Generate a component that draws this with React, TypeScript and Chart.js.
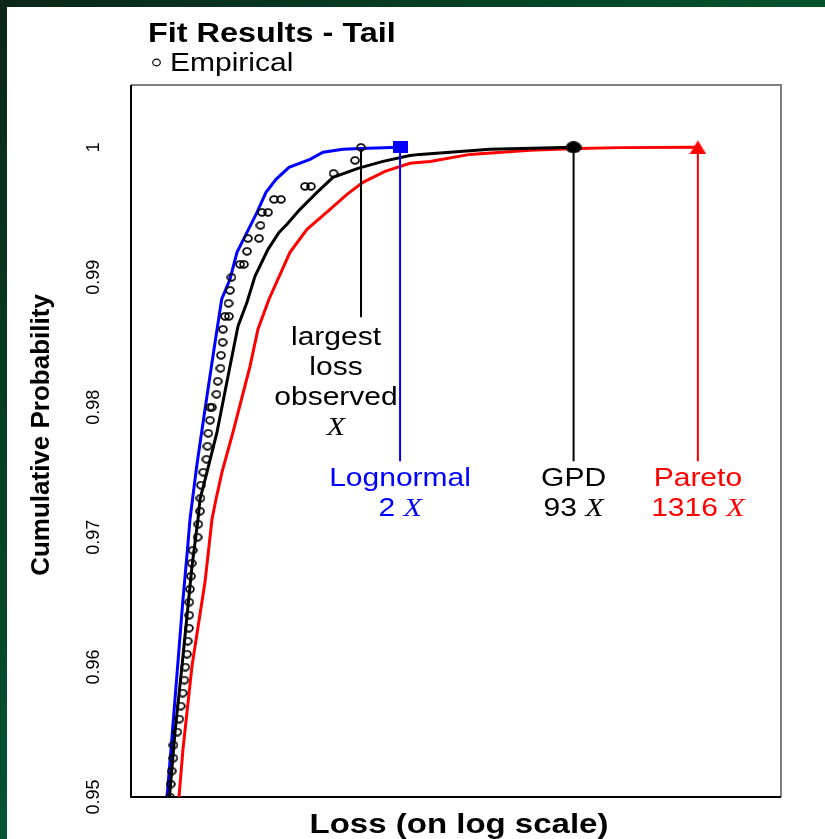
import React, { useEffect, useRef } from "react";
import { Chart, registerables } from "chart.js";

Chart.register(...registerables);

const SX = 1.2; // horizontal text stretch seen in the reference
const SANS = "'Liberation Sans', Arial, sans-serif";
const SERIF = "'Liberation Serif', 'Times New Roman', serif";

const TITLE = "Fit Results - Tail";
const LEGEND_LABEL = "Empirical";
const Y_TITLE = "Cumulative Probability";
const X_TITLE = "Loss (on log scale)";

// y axis
const yTicks = [0.95, 0.96, 0.97, 0.98, 0.99, 1];
const yTickLabels = ["0.95", "0.96", "0.97", "0.98", "0.99", "1"];
const yMin = 0.95;
const yMax = 1.0048;

// x axis: loss in multiples of the largest observed loss X (log scale, no ticks)
const xMin = 0.00742;
const xMax = 7743;

// Empirical points (loss / X, cumulative probability)
const empiricalLoss = [
  1.0, 0.88, 0.5565, 0.303, 0.3444, 0.1565, 0.1816, 0.1211, 0.1377, 0.1173,
  0.08989, 0.1137, 0.08799, 0.0758, 0.08254, 0.06322, 0.06124, 0.05932, 0.05505, 0.05995,
  0.05275, 0.0524, 0.05054, 0.05001, 0.04711, 0.04592, 0.03999, 0.04173,
  0.03999, 0.03855, 0.0379, 0.0371, 0.03466, 0.033, 0.03265, 0.03231, 0.03115, 0.03063,
  0.02765, 0.02707, 0.02667, 0.0261, 0.02571, 0.02566, 0.02555, 0.02486, 0.02448, 0.02361,
  0.02311, 0.02234, 0.02141, 0.02078, 0.01991, 0.01836, 0.01829, 0.01767, 0.0173, 0.01704,
];
const empiricalProb = [
  1.0, 0.999, 0.998, 0.997, 0.997, 0.996, 0.996, 0.995, 0.995, 0.994,
  0.993, 0.993, 0.992, 0.991, 0.991, 0.99, 0.989, 0.988, 0.987, 0.987,
  0.986, 0.985, 0.984, 0.983, 0.982, 0.981, 0.98, 0.98,
  0.979, 0.978, 0.977, 0.976, 0.975, 0.974, 0.973, 0.972, 0.971, 0.97,
  0.969, 0.968, 0.967, 0.966, 0.965, 0.964, 0.963, 0.962, 0.961, 0.96,
  0.959, 0.958, 0.957, 0.956, 0.955, 0.954, 0.953, 0.952, 0.951, 0.95,
];

// Fitted CDFs
const lognormalLoss = [
  0.01599, 0.01741, 0.01896, 0.02064, 0.02248, 0.02475, 0.0261, 0.03011, 0.03594, 0.04354,
  0.05131, 0.06124, 0.07109, 0.08799, 0.1089, 0.1319, 0.1633, 0.2154, 0.3372, 0.4448,
  0.6813, 0.9789, 2.3,
];
const lognormalProb = [
  0.95, 0.95369, 0.95754, 0.96138, 0.96523, 0.96908, 0.97138, 0.97546, 0.97985, 0.98446,
  0.98831, 0.98985, 0.99192, 0.99346, 0.995, 0.99654, 0.99754, 0.99846, 0.99908, 0.99962,
  0.99985, 0.99992, 1.0,
];

const gpdLoss = [
  0.01686, 0.01896, 0.022, 0.02539, 0.02724, 0.03095, 0.03231, 0.03751, 0.04642, 0.06124,
  0.07262, 0.08799, 0.1043, 0.1377, 0.1741, 0.2064, 0.2724, 0.3913, 0.5505, 0.938,
  1.598, 2.843, 3.518, 8.254, 15.65, 93,
];
const gpdProb = [
  0.95, 0.955, 0.96008, 0.96523, 0.96777, 0.97138, 0.97292, 0.975, 0.97808, 0.98315,
  0.98623, 0.98808, 0.99008, 0.99215, 0.99346, 0.99408, 0.99523, 0.99654, 0.99769, 0.99838,
  0.99892, 0.99938, 0.99946, 0.99969, 0.99985, 1.0,
];

const paretoLoss = [
  0.02064, 0.02248, 0.02724, 0.03594, 0.04173, 0.04544, 0.05164, 0.06528, 0.0938, 0.1112,
  0.1406, 0.22, 0.3162, 0.5164, 0.742, 1.043, 1.668, 2.843, 4.354, 10.21,
  36.71, 100, 250.2, 1316,
];
const paretoProb = [
  0.95, 0.95369, 0.96008, 0.96654, 0.97138, 0.97292, 0.975, 0.97808, 0.98315, 0.986,
  0.98831, 0.99192, 0.99369, 0.99523, 0.99638, 0.99731, 0.99815, 0.99877, 0.99892, 0.99946,
  0.99977, 0.99992, 0.99998, 1.0,
];

// Annotations
const fitNames = ["Lognormal", "GPD", "Pareto"];
const fitMultiples = ["2", "93", "1316"];
const fitColors = ["#0000ff", "#000000", "#ff0000"];
const fitMaxLoss = [2.3, 93, 1316];
const fitMaxProb = 1.0;
const fitLineBottom = 0.97585;
const observedLoss = 1.0;
const observedLineTop = 0.99985;
const observedLineBottom = 0.98692;
const observedLabel = ["largest", "loss", "observed"];

function makeMarker(kind: string, color: string, w: number, h: number, lw = 1.4) {
  const c = document.createElement("canvas");
  c.width = w;
  c.height = h;
  const g = c.getContext("2d")!;
  g.fillStyle = color;
  g.strokeStyle = color;
  if (kind === "rect") {
    g.fillRect(0, 0, w, h);
  } else if (kind === "ellipse") {
    g.beginPath();
    g.ellipse(w / 2, h / 2, w / 2, h / 2, 0, 0, Math.PI * 2);
    g.fill();
  } else if (kind === "triangle") {
    g.beginPath();
    g.moveTo(w / 2, 0);
    g.lineTo(w, h);
    g.lineTo(0, h);
    g.closePath();
    g.fill();
  } else {
    g.lineWidth = lw;
    g.beginPath();
    g.ellipse(w / 2, h / 2, w / 2 - lw / 2 - 0.2, h / 2 - lw / 2 - 0.2, 0, 0, Math.PI * 2);
    g.stroke();
  }
  return c;
}

function hText(ctx: CanvasRenderingContext2D, text: string, x: number, y: number, font: string, color: string, align = "left") {
  ctx.save();
  ctx.font = font;
  ctx.fillStyle = color;
  ctx.textAlign = "left";
  ctx.textBaseline = "alphabetic";
  const w = ctx.measureText(text).width * SX;
  const x0 = align === "center" ? x - w / 2 : align === "right" ? x - w : x;
  ctx.translate(x0, y);
  ctx.scale(SX, 1);
  ctx.fillText(text, 0, 0);
  ctx.restore();
}

function multText(ctx: CanvasRenderingContext2D, num: string, cx: number, y: number, color: string) {
  const f1 = `25px ${SANS}`;
  const f2 = `italic 25px ${SERIF}`;
  ctx.save();
  ctx.font = f1;
  const w1 = num ? ctx.measureText(num + " ").width : 0;
  ctx.font = f2;
  const w2 = ctx.measureText("X").width;
  const total = (w1 + w2) * SX;
  ctx.translate(cx - total / 2, y);
  ctx.scale(SX, 1);
  ctx.fillStyle = color;
  ctx.textBaseline = "alphabetic";
  ctx.textAlign = "left";
  if (num) {
    ctx.font = f1;
    ctx.fillText(num + " ", 0, 0);
  }
  ctx.font = f2;
  ctx.fillText("X", w1, 0);
  ctx.restore();
}

const overlayPlugin = {
  id: "overlay",
  beforeDraw(chart: any) {
    const ctx = chart.ctx as CanvasRenderingContext2D;
    const W = chart.width;
    const H = chart.height;
    ctx.save();
    ctx.fillStyle = "#ffffff";
    ctx.fillRect(0, 0, W, H);
    const g = ctx.createLinearGradient(0, 0, W, H);
    g.addColorStop(0, "#0b2618");
    g.addColorStop(0.5, "#02542e");
    g.addColorStop(1, "#006636");
    ctx.fillStyle = g;
    ctx.fillRect(0, 0, W, 7);
    ctx.fillRect(0, 0, 7, H);
    ctx.restore();
  },
  beforeDatasetsDraw(chart: any) {
    const ctx = chart.ctx as CanvasRenderingContext2D;
    const a = chart.chartArea;
    ctx.save();
    ctx.lineWidth = 2;
    ctx.strokeStyle = "#808080";
    ctx.beginPath();
    ctx.moveTo(a.left, a.top);
    ctx.lineTo(a.right, a.top);
    ctx.lineTo(a.right, a.bottom);
    ctx.stroke();
    ctx.strokeStyle = "#000000";
    ctx.beginPath();
    ctx.moveTo(a.left, a.top);
    ctx.lineTo(a.left, a.bottom);
    ctx.lineTo(a.right, a.bottom);
    ctx.stroke();
    ctx.restore();
  },
  afterDraw(chart: any) {
    const ctx = chart.ctx as CanvasRenderingContext2D;
    const a = chart.chartArea;
    const xs = chart.scales.x;
    const ys = chart.scales.y;

    // title and legend
    hText(ctx, TITLE, 148, 42, `bold 27px ${SANS}`, "#000", "left");
    ctx.save();
    ctx.strokeStyle = "#000";
    ctx.lineWidth = 1.2;
    ctx.beginPath();
    ctx.ellipse(156.5, 62.5, 3.8, 3.3, 0, 0, Math.PI * 2);
    ctx.stroke();
    ctx.restore();
    hText(ctx, LEGEND_LABEL, 170, 71, `25px ${SANS}`, "#000", "left");

    // y tick labels (rotated)
    ctx.save();
    ctx.font = `18px ${SANS}`;
    ctx.fillStyle = "#000";
    ctx.textAlign = "center";
    ctx.textBaseline = "middle";
    yTicks.forEach((t, i) => {
      const py = ys.getPixelForValue(t);
      ctx.save();
      ctx.translate(a.left - 37, py);
      ctx.rotate(-Math.PI / 2);
      ctx.fillText(yTickLabels[i], 0, 0);
      ctx.restore();
    });
    // y title
    ctx.font = `bold 26px ${SANS}`;
    ctx.translate(42, (a.top + a.bottom) / 2 - 6);
    ctx.rotate(-Math.PI / 2);
    ctx.fillText(Y_TITLE, 0, 0);
    ctx.restore();

    // x title
    hText(ctx, X_TITLE, (a.left + a.right) / 2 + 3, 833, `bold 27.5px ${SANS}`, "#000", "center");

    // largest loss observed label
    const ox = xs.getPixelForValue(observedLoss) - 25;
    const ob = ys.getPixelForValue(observedLineBottom);
    observedLabel.forEach((s, i) => {
      hText(ctx, s, ox, ob + 28 + 30 * i, `25px ${SANS}`, "#000", "center");
    });
    multText(ctx, "", ox, ob + 28 + 90, "#000");

    // fit labels
    const fb = ys.getPixelForValue(fitLineBottom);
    fitNames.forEach((name, i) => {
      const px = xs.getPixelForValue(fitMaxLoss[i]);
      hText(ctx, name, px, fb + 25, `25px ${SANS}`, fitColors[i], "center");
      multText(ctx, fitMultiples[i], px, fb + 55, fitColors[i]);
    });
  },
};

function pts(xsArr: number[], ysArr: number[]) {
  return xsArr.map((x, i) => ({ x, y: ysArr[i] }));
}

export default function App() {
  const ref = useRef<HTMLCanvasElement | null>(null);

  useEffect(() => {
    if (!ref.current) return;
    const ring = makeMarker("ring", "#000000", 10, 9, 1.7);
    const square = makeMarker("rect", "#0000ff", 15, 12);
    const dot = makeMarker("ellipse", "#000000", 16, 12);
    const tri = makeMarker("triangle", "#ff0000", 17, 14);
    const markerStyles = [square, dot, tri];

    const lineDs = (label: string, data: any[], color: string, width: number, order: number) => ({
      label,
      data,
      showLine: true,
      borderColor: color,
      backgroundColor: color,
      borderWidth: width,
      pointRadius: 0,
      pointHoverRadius: 0,
      tension: 0,
      order,
    });

    const datasets: any[] = [
      lineDs("Pareto", pts(paretoLoss, paretoProb), "#ff0000", 3, 6),
      lineDs("Lognormal", pts(lognormalLoss, lognormalProb), "#0000ff", 3, 5),
      lineDs("GPD", pts(gpdLoss, gpdProb), "#000000", 3, 4),
      lineDs(
        "largest loss observed",
        [
          { x: observedLoss, y: observedLineTop },
          { x: observedLoss, y: observedLineBottom },
        ],
        "#000000",
        2,
        3
      ),
      ...fitNames.map((n, i) =>
        lineDs(
          n + " max",
          [
            { x: fitMaxLoss[i], y: fitMaxProb },
            { x: fitMaxLoss[i], y: fitLineBottom },
          ],
          fitColors[i],
          2,
          3
        )
      ),
      {
        label: "Empirical",
        data: pts(empiricalLoss, empiricalProb),
        showLine: false,
        pointStyle: ring,
        pointRadius: 4,
        order: 1,
      },
      ...fitNames.map((n, i) => ({
        label: n + " marker",
        data: [{ x: fitMaxLoss[i], y: fitMaxProb }],
        showLine: false,
        pointStyle: markerStyles[i],
        pointRadius: 7,
        order: 0,
      })),
    ];

    const chart = new Chart(ref.current, {
      type: "scatter",
      data: { datasets },
      options: {
        animation: false,
        responsive: false,
        devicePixelRatio: 1,
        events: [],
        layout: { padding: { left: 131, right: 44, top: 85, bottom: 42 } },
        plugins: {
          legend: { display: false },
          title: { display: false },
          tooltip: { enabled: false },
        },
        scales: {
          x: { type: "logarithmic", min: xMin, max: xMax, display: false },
          y: { type: "linear", min: yMin, max: yMax, display: false },
        },
      },
      plugins: [overlayPlugin],
    } as any);
    return () => chart.destroy();
  }, []);

  return (
    <div style={{ position: "absolute", left: 0, top: 0, width: 825, height: 839, background: "#ffffff" }}>
      <canvas ref={ref} width={825} height={839} style={{ display: "block" }} />
    </div>
  );
}
